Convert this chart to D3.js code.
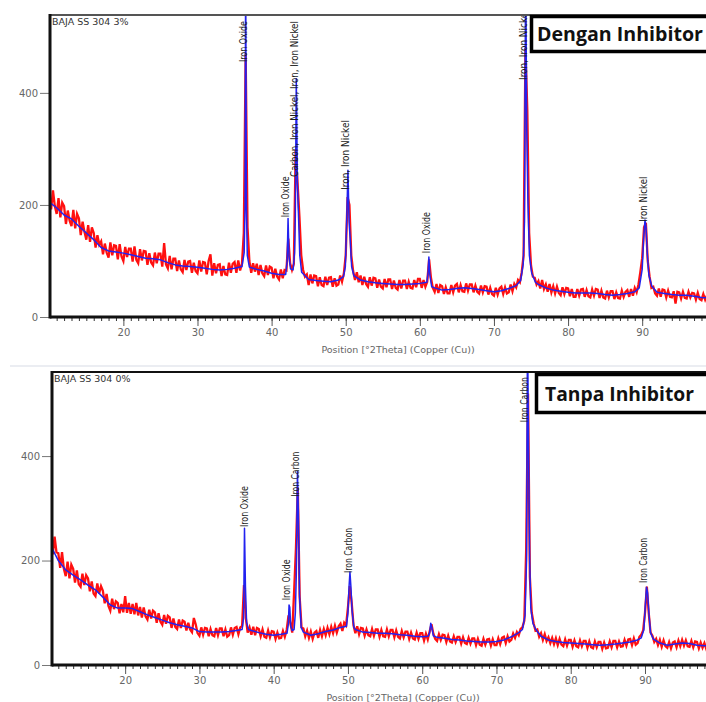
<!DOCTYPE html>
<html>
<head>
<meta charset="utf-8">
<script src="https://cdn.jsdelivr.net/npm/d3@7"></script>
<style>
body { margin: 0; background: #fff; }
svg { display: block; }
</style>
</head>
<body>
<svg id="chart" width="706" height="702"></svg>
<script>
// tick values shared by both panels
var xTicks = [20, 30, 40, 50, 60, 70, 80, 90];
var yTicks = [0, 200, 400];

// measured counts (red) start at 10 deg 2theta, one value every 0.25 deg
var obsStart = 10;
var obsStep = 0.25;

// ---- BAJA SS 304 3% (Dengan Inhibitor) ----
var obs3 = [
  220,192,226,198, 184,212,178,204, 198,166,190,172, 162,191,158,184, 176,146,170,152,
  138,164,134,160, 150,124,146,129, 135,112,131,115, 106,133,110,128, 127,103,130,108,
  100,125,107,122, 122,99,126,102, 96,121,101,118, 117,93,114,97, 92,115,96,113,
  113,90,132,94, 87,109,85,104, 104,82,101,85, 80,102,84,99, 100,79,97,82,
  78,101,81,98, 97,76,100,112, 74,96,78,93, 94,73,91,76, 75,97,79,95,
  98,79,101,83, 95,150,470,160, 100,79,96,81, 95,75,93,78, 73,92,75,90,
  88,69,86,72, 67,85,69,84, 83,140,96,84, 95,300,240,180, 110,84,72,76,
  57,76,60,74, 73,55,71,57, 55,72,57,70, 71,54,69,56, 58,74,63,78,
  110,214,200,110, 82,66,80,62, 74,57,72,59, 54,71,56,70, 69,52,67,54,
  51,68,53,67, 67,50,65,52, 49,66,51,65, 65,50,63,52, 51,66,53,68,
  68,52,66,54, 63,103,70,52, 45,59,43,57, 55,41,53,42, 42,57,44,56,
  59,44,57,46, 45,60,47,58, 58,44,56,45, 42,56,44,55, 54,40,52,41,
  38,52,40,51, 54,41,53,42, 44,58,46,59, 53,66,62,80, 110,480,370,150,
  92,72,70,58, 64,51,66,50, 58,45,59,44, 55,42,54,43, 39,53,41,52,
  51,37,50,36, 36,50,38,49, 50,36,48,37, 35,49,38,50, 49,34,47,35,
  33,47,35,46, 46,32,44,34, 33,47,36,45, 48,36,50,38, 52,44,58,80,
  105,160,168,100, 72,52,54,42, 38,51,36,49, 48,35,47,36, 35,46,24,45,
  44,33,45,34, 33,45,35,43, 42,31,43,32, 30,41,31,39, 34
];
// fitted profile (blue): [2theta, counts]
var calc3 = [
  [10,205],[11,195],[12,182],[13,175],[14,162],[15,150],[16,138],[17,124],[18,118],[19,116],
  [20,114],[21,111],[22,108],[23,105],[24,104],[25,102],[26,97],[27,93],[28,91],[29,90],
  [30,89],[31,87],[32,85],[33,84],[34,85],[35,87],[36.0,90],[36.3,115],[36.42,200],[36.5,640],
  [36.6,200],[36.72,110],[37,89],[38,85],[39,82],[40,78],[41,76],[41.9,76],[42.1,100],[42.22,176],
  [42.35,108],[42.55,86],[42.9,84],[43.1,115],[43.2,180],[43.33,425],[43.48,240],[43.62,185],[43.8,110],[44.05,80],
  [45,67],[46,65],[47,64],[48,63],[49,66],[49.7,72],[49.95,90],[50.15,180],[50.3,262],[50.45,170],
  [50.6,140],[50.8,90],[51.1,74],[52,66],[53,63],[54,61],[55,60],[56,59],[57,58],[58,58],
  [59,59],[60,60],[60.95,62],[61.12,80],[61.22,107],[61.35,75],[61.6,54],[62,52],[63,48],[64,49],
  [65,51],[66,52],[67,51],[68,49],[69,47],[70,45],[71,47],[72,51],[73,56],[73.6,65],
  [73.95,95],[74.12,170],[74.28,640],[74.42,340],[74.58,210],[74.78,110],[75.1,78],[75.6,62],[76,58],[77,52],
  [78,48],[79,46],[80,44],[81,43],[82,43],[83,43],[84,42],[85,40],[86,39],[87,40],
  [88,42],[89,45],[89.6,52],[90.0,85],[90.2,140],[90.38,173],[90.52,160],[90.68,115],[90.9,75],[91.3,55],
  [92,44],[93,42],[94,40],[95,39],[96,39],[97,37],[98,35],[99,34],[101,34]
];
var peakNames3 = ['Iron Oxide', 'Iron Oxide', 'Carbon, Iron Nickel, Iron, Iron Nickel',
  'Iron, Iron Nickel', 'Iron Oxide', 'Iron, Iron Nickel', 'Iron Nickel'];
var peakPos3 = [36.45, 42.1, 43.4, 50.2, 61.2, 74.2, 90.4];
var peakBase3 = [455, 178, 250, 227, 114, 423, 170];

// ---- BAJA SS 304 0% (Tanpa Inhibitor) ----
var obs0 = [
  240,212,246,216, 214,186,216,184, 170,198,166,192, 184,158,181,155, 150,175,153,172,
  166,141,160,137, 132,156,137,151, 142,118,136,113, 104,127,107,122, 119,99,117,101,
  132,100,119,98, 117,97,119,95, 111,91,110,93, 87,106,89,104, 101,81,99,83,
  77,96,79,94, 91,71,89,73, 69,87,71,85, 83,66,81,68, 63,90,78,61,
  56,72,58,71, 70,55,69,57, 55,71,57,70, 70,55,68,54, 57,72,58,71,
  73,59,72,75, 153,90,62,72, 58,73,57,71, 69,55,68,54, 52,66,53,65,
  64,50,62,51, 52,65,54,67, 95,80,62,140, 224,340,130,72, 70,55,66,52,
  64,50,62,65, 52,67,55,69, 57,71,59,73, 61,75,62,74, 79,65,81,76,
  110,151,120,76, 61,74,59,71, 70,56,68,57, 55,69,56,68, 68,54,67,55,
  54,68,55,67, 67,53,66,54, 51,65,53,64, 64,50,62,51, 49,62,50,61,
  61,47,60,49, 64,78,60,50, 46,59,48,58, 57,44,56,45, 43,55,44,54,
  54,41,53,42, 40,52,41,51, 51,38,50,39, 37,50,39,49, 50,37,49,38,
  38,51,40,52, 54,42,55,45, 48,60,52,63, 57,69,72,85, 220,520,168,100,
  80,66,68,54, 61,48,59,46, 53,42,52,40, 51,38,50,39, 36,49,37,48,
  48,35,47,36, 34,47,36,46, 46,33,45,34, 32,45,34,44, 44,31,43,32,
  33,45,34,46, 46,34,45,35, 36,48,37,49, 50,38,51,39, 42,54,58,66,
  100,150,100,62, 56,44,50,38, 48,35,47,36, 33,44,32,43, 45,34,47,36,
  48,37,47,36, 35,46,34,45, 44,32,43,33, 42,31,41,32, 37
];
var calc0 = [
  [10,228],[11,200],[12,182],[13,172],[14,163],[15,153],[16,144],[17,130],[18,115],[19,109],
  [20,109],[21,108],[22,102],[23,96],[24,91],[25,86],[26,81],[27,77],[28,74],[29,71],
  [30,64],[31,63],[32,63],[33,63],[34,64],[35,66],[35.75,68],[35.95,90],[36.07,262],[36.2,150],
  [36.35,82],[36.6,68],[37,66],[38,62],[39,59],[40,57],[41,59],[41.8,61],[41.97,78],[42.07,115],
  [42.17,110],[42.3,74],[42.5,66],[42.75,68],[42.92,100],[43.05,175],[43.2,370],[43.33,290],[43.48,135],[43.7,72],
  [44,63],[45,57],[46,60],[47,64],[48,67],[49,72],[49.8,74],[50.0,100],[50.15,150],[50.27,178],
  [50.4,150],[50.55,105],[50.8,72],[51,68],[52,63],[53,62],[54,61],[55,61],[56,60],[57,58],
  [58,57],[59,55],[60,54],[60.8,55],[61.0,62],[61.15,80],[61.3,72],[61.5,56],[62,53],[63,51],
  [64,49],[65,48],[66,46],[67,45],[68,44],[69,44],[70,45],[71,48],[72,54],[73,62],
  [73.5,68],[73.85,95],[74.05,200],[74.18,650],[74.32,410],[74.47,200],[74.62,110],[74.9,80],[75.3,68],[76,55],
  [77,48],[78,45],[79,43],[80,42],[81,41],[82,40],[83,39],[84,38],[85,39],[86,40],
  [87,42],[88,44],[89,48],[89.5,52],[89.85,68],[90.05,115],[90.2,149],[90.35,138],[90.52,100],[90.75,62],
  [91.1,50],[92,42],[93,38],[94,40],[95,42],[96,41],[97,38],[98,37],[99,37],[101,37]
];
var peakNames0 = ['Iron Oxide', 'Iron Oxide', 'Iron Carbon', 'Iron Carbon', 'Iron Carbon', 'Iron Carbon'];
var peakPos0 = [36.3, 42.0, 43.2, 50.3, 74.1, 90.1];
var peakBase0 = [264, 124, 322, 176, 465, 157];

var svg = d3.select('#chart');

// thin grey separator between the two screenshots
svg.append('line')
    .attr('x1', 10).attr('x2', 706)
    .attr('y1', 366).attr('y2', 366)
    .attr('stroke', '#e4e7ee')
    .attr('stroke-width', 1.5);

function drawPanel(p) {
    var g = svg.append('g');

    var x = d3.scaleLinear().domain(p.xDomain).range([p.left, p.right]);
    var y = d3.scaleLinear().domain([0, p.yMax]).range([p.bottom, p.top]);

    var clipId = 'clip-' + p.id;
    svg.append('clipPath').attr('id', clipId)
        .append('rect')
        .attr('x', p.left).attr('y', p.top)
        .attr('width', p.right - p.left)
        .attr('height', p.bottom - p.top);

    var line = d3.line()
        .x(d => x(d[0]))
        .y(d => y(d[1]));

    var obsPoints = p.obs.map((v, i) => [obsStart + i * obsStep, v]);

    var plot = g.append('g').attr('clip-path', 'url(#' + clipId + ')');

    // measured pattern
    plot.append('path')
        .datum(obsPoints)
        .attr('d', line)
        .attr('fill', 'none')
        .attr('stroke', '#ff1010')
        .attr('stroke-width', 2.3)
        .attr('stroke-linejoin', 'miter');

    // fitted profile
    plot.append('path')
        .datum(p.calc)
        .attr('d', line)
        .attr('fill', 'none')
        .attr('stroke', '#2222f0')
        .attr('stroke-width', 1.5)
        .attr('stroke-linejoin', 'round');

    // phase labels, written vertically above each peak
    plot.selectAll('.peak-label')
        .data(p.names)
        .enter()
        .append('text')
        .attr('class', 'peak-label')
        .attr('transform', (d, i) => 'translate(' + (x(p.pos[i]) + 1.5) + ',' + y(p.base[i]) + ') rotate(-90)')
        .attr('font-family', '"Liberation Sans Narrow", "DejaVu Sans Condensed", sans-serif')
        .attr('font-size', 10.5)
        .attr('fill', '#1a1a1a')
        .attr('textLength', d => d.length * 4.1)
        .attr('lengthAdjust', 'spacingAndGlyphs')
        .text(d => d);

    // sample name
    g.append('text')
        .attr('x', p.left + 2)
        .attr('y', p.top + 10)
        .attr('font-family', 'DejaVu Sans, sans-serif')
        .attr('font-size', 9.5)
        .attr('fill', '#333')
        .text(p.sample);

    // minor ticks every degree
    var minor = g.append('g')
        .attr('transform', 'translate(0,' + p.bottom + ')')
        .call(d3.axisBottom(x).tickValues(d3.range(11, 100)).tickSize(4).tickFormat(''));
    minor.select('.domain').remove();
    minor.selectAll('line').attr('stroke', '#333');

    var major = g.append('g')
        .attr('transform', 'translate(0,' + p.bottom + ')')
        .call(d3.axisBottom(x).tickValues(xTicks).tickSize(9).tickPadding(3));
    major.select('.domain').remove();
    major.selectAll('line').attr('stroke', '#555');
    major.selectAll('text')
        .attr('font-family', 'DejaVu Sans, sans-serif')
        .attr('font-size', 10)
        .attr('fill', '#666');

    var yAxis = g.append('g')
        .attr('transform', 'translate(' + p.left + ',0)')
        .call(d3.axisLeft(y).tickValues(yTicks).tickSize(10).tickPadding(2));
    yAxis.select('.domain').remove();
    yAxis.selectAll('line').attr('stroke', '#777');
    yAxis.selectAll('text')
        .attr('font-family', 'DejaVu Sans, sans-serif')
        .attr('font-size', 10)
        .attr('fill', '#666');

    // frame: top border, left and bottom axis lines
    g.append('line')
        .attr('x1', p.left).attr('x2', p.right)
        .attr('y1', p.top).attr('y2', p.top)
        .attr('stroke', p.topColor).attr('stroke-width', 2);
    g.append('line')
        .attr('x1', p.left).attr('x2', p.left)
        .attr('y1', p.top - 1).attr('y2', p.bottom + 1.5)
        .attr('stroke', '#111').attr('stroke-width', 3);
    g.append('line')
        .attr('x1', p.left).attr('x2', p.right)
        .attr('y1', p.bottom).attr('y2', p.bottom)
        .attr('stroke', '#111').attr('stroke-width', 3);

    // axis title
    g.append('text')
        .attr('x', p.titleX)
        .attr('y', p.bottom + 36)
        .attr('text-anchor', 'middle')
        .attr('font-family', 'DejaVu Sans, sans-serif')
        .attr('font-size', 9.5)
        .attr('fill', '#666')
        .text('Position [°2Theta] (Copper (Cu))');

    // caption box
    g.append('rect')
        .attr('x', p.boxX).attr('y', p.boxY)
        .attr('width', 760 - p.boxX).attr('height', p.boxH)
        .attr('fill', '#fff')
        .attr('stroke', '#000')
        .attr('stroke-width', 3.5);
    g.append('text')
        .attr('x', p.boxX + p.textDx)
        .attr('y', p.boxY + p.boxH / 2 + 7)
        .attr('font-family', '"Open Sans", Lato, sans-serif')
        .attr('font-weight', 'bold')
        .attr('font-size', 19)
        .attr('fill', '#111')
        .attr('textLength', p.textLen)
        .attr('lengthAdjust', 'spacingAndGlyphs')
        .text(p.caption);
}

drawPanel({
    id: 'top', obs: obs3, calc: calc3,
    names: peakNames3, pos: peakPos3, base: peakBase3,
    sample: 'BAJA SS 304 3%', caption: 'Dengan Inhibitor',
    xDomain: [10.1, 100.5], yMax: 539,
    left: 50, right: 720, top: 15, bottom: 317, titleX: 398,
    topColor: '#555', boxX: 531.5, boxY: 16.5, boxH: 35, textDx: 5.5, textLen: 166
});

drawPanel({
    id: 'bottom', obs: obs0, calc: calc0,
    names: peakNames0, pos: peakPos0, base: peakBase0,
    sample: 'BAJA SS 304 0%', caption: 'Tanpa Inhibitor',
    xDomain: [10.15, 100.1], yMax: 561,
    left: 52, right: 720, top: 372, bottom: 665, titleX: 403,
    topColor: '#111', boxX: 536.5, boxY: 374.5, boxH: 38, textDx: 8.5, textLen: 149
});
</script>
</body>
</html>
